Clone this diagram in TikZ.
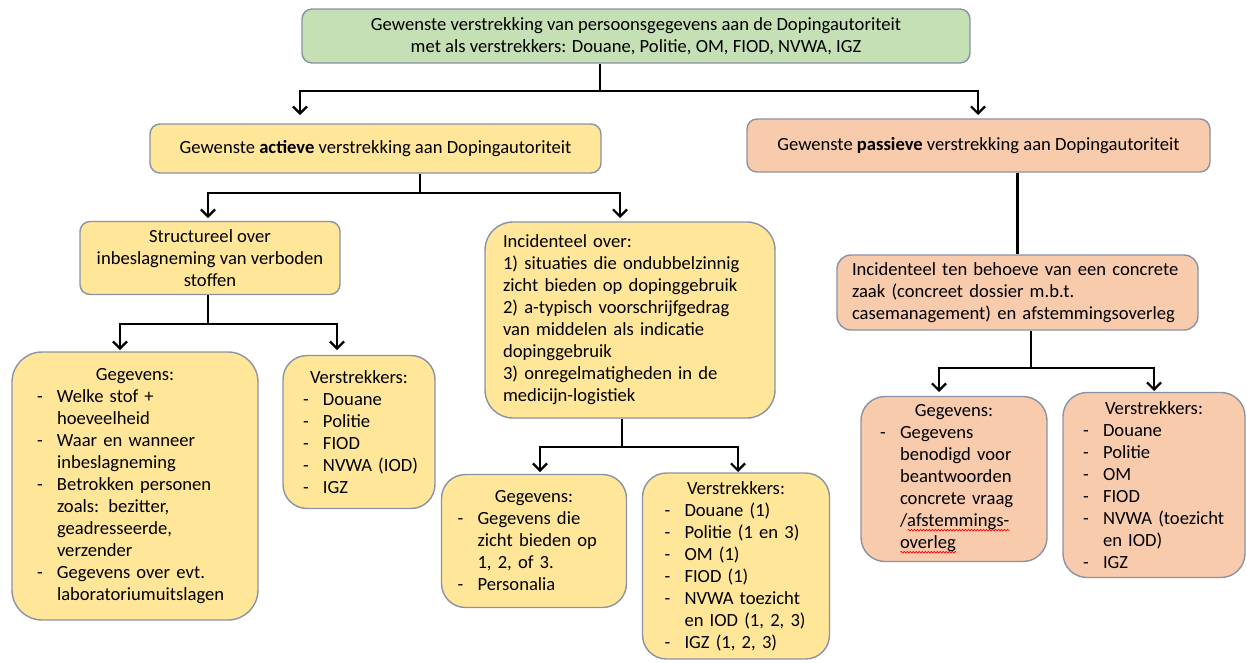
\documentclass[tikz,border=0pt]{standalone}
\usepackage{fontspec}
\setmainfont{Carlito}
\usetikzlibrary{arrows.meta,decorations.pathmorphing}
\definecolor{topgreen}{HTML}{C5E0B4}
\definecolor{activeyellow}{HTML}{FFE699}
\definecolor{passivepeach}{HTML}{F8CBAD}
\definecolor{boxborder}{HTML}{8A93A6}
\newlength{\foutbreedte}
\newcommand{\streep}[1]{\mbox{\makebox[20pt][l]{-}#1}}
\newcommand{\verder}[1]{\mbox{\hspace*{20pt}#1}}
\newcommand{\kop}[1]{\makebox[\linewidth]{#1}}
\newcommand{\spelfout}[1]{\settowidth{\foutbreedte}{#1}\rlap{\tikz[baseline=0pt]
    \draw[red, fill=none, sharp corners, line width=0.7pt, decorate,
        decoration={snake, amplitude=0.8pt, segment length=3pt}]
        (0pt,-3.5pt) -- (\foutbreedte,-3.5pt);}#1}
\tikzset{
    box/.style = {
        draw = boxborder,
        line width = 1.4pt,
        rounded corners = 10pt,
        inner sep = 0pt,
        align = center,
        font = \fontsize{18.6}{22}\selectfont,
        },
    top box/.style = {
        box,
        fill = topgreen,
        },
    active box/.style = {
        box,
        fill = activeyellow,
        },
    passive box/.style = {
        box,
        fill = passivepeach,
        },
    list box/.style = {
        align = left,
        rounded corners = 24pt,
        },
    link/.style = {
        draw,
        line width = 2.2pt,
        },
    link arrow/.style = {
        link,
        -{Straight Barb[length=7pt,width=14pt]},
        },
}
\begin{document}
\begin{tikzpicture}[x=1pt, y=-1pt]
    \useasboundingbox[fill=white] (0,0) rectangle (1247,662);

    \node[top box, minimum width=668, minimum height=54] (top) at (636,36)
        {Gewenste verstrekking van persoonsgegevens aan de Dopingautoriteit\\met als verstrekkers: Douane, Politie, OM, FIOD, NVWA, IGZ};

    \node[active box, minimum width=451, minimum height=49] (act) at (375.5,148.5)
        {Gewenste \textbf{actieve} verstrekking aan Dopingautoriteit};
    \node[passive box, minimum width=463, minimum height=53] (pas) at (978.5,145.5)
        {Gewenste \textbf{passieve} verstrekking aan Dopingautoriteit};

    \node[active box, minimum width=260, minimum height=73] (struc) at (210,258)
        {Structureel over\\inbeslagneming van verboden\\stoffen};
    \node[active box, list box, rounded corners=28pt, text width=254, minimum width=290, minimum height=196] (incid) at (630,320)
        {Incidenteel over:\\1) situaties die ondubbelzinnig\\zicht bieden op dopinggebruik\\2) a-typisch voorschrijfgedrag\\van middelen als indicatie\\dopinggebruik\\3) onregelmatigheden in de\\medicijn-logistiek};
    \node[passive box, list box, rounded corners=14pt, text width=331, minimum width=361, minimum height=75] (pinc) at (1017.5,292.5)
        {Incidenteel ten behoeve van een concrete\\zaak (concreet dossier m.b.t.\\casemanagement) en afstemmingsoverleg};

    \node[active box, list box, rounded corners=30pt, text width=196, minimum width=246, minimum height=268] (gegL) at (135,486)
        {\kop{Gegevens:}\\\streep{Welke stof +}\\\verder{hoeveelheid}\\\streep{Waar en wanneer}\\\verder{inbeslagneming}\\\streep{Betrokken personen}\\\verder{zoals: bezitter,}\\\verder{geadresseerde,}\\\verder{verzender}\\\streep{Gegevens over evt.}\\\verder{laboratoriumuitslagen}};
    \node[active box, list box, text width=112, minimum width=152, minimum height=153] (verL) at (359,432)
        {\kop{Verstrekkers:}\\\streep{Douane}\\\streep{Politie}\\\streep{FIOD}\\\streep{NVWA (IOD)}\\\streep{IGZ}};

    \node[active box, list box, text width=153, minimum width=185, minimum height=133] (gegM) at (534,541)
        {\kop{Gegevens:}\\\streep{Gegevens die}\\\verder{zicht bieden op}\\\verder{1, 2, of 3.}\\\streep{Personalia}};
    \node[active box, list box, text width=143, minimum width=187, minimum height=186] (verM) at (736,566)
        {\kop{Verstrekkers:}\\\streep{Douane (1)}\\\streep{Politie (1 en 3)}\\\streep{OM (1)}\\\streep{FIOD (1)}\\\streep{NVWA toezicht}\\\verder{en IOD (1, 2, 3)}\\\streep{IGZ (1, 2, 3)}};

    \node[passive box, list box, text width=148, minimum width=186, minimum height=165] (gegR) at (954,479)
        {\kop{Gegevens:}\\\streep{Gegevens}\\\verder{benodigd voor}\\\verder{beantwoorden}\\\verder{concrete vraag}\\\verder{/\spelfout{afstemmings-}}\\\verder{\spelfout{overleg}}};
    \node[passive box, list box, text width=142, minimum width=182, minimum height=185] (verR) at (1154,485)
        {\kop{Verstrekkers:}\\\streep{Douane}\\\streep{Politie}\\\streep{OM}\\\streep{FIOD}\\\streep{NVWA (toezicht}\\\verder{en IOD)}\\\streep{IGZ}};

    \coordinate (j1) at (600,91);
    \coordinate (t1) at (300,115);
    \coordinate (t2) at (978,115);
    \coordinate (j2) at (420,193);
    \coordinate (t3) at (208,218);
    \coordinate (t4) at (620,218);
    \coordinate (j3) at (208,324);
    \coordinate (t5) at (120,350);
    \coordinate (t6) at (337,350);
    \coordinate (j4) at (622,447);
    \coordinate (t7) at (540,472);
    \coordinate (t8) at (738,472);
    \coordinate (j5) at (1031,368);
    \coordinate (t9) at (939,392);
    \coordinate (t10) at (1154,391);

    \path[link] (top.south -| j1) -- (j1);
    \path[link arrow] (j1) -| (t1);
    \path[link arrow] (j1) -| (t2);
    \path[link] (act.south -| j2) -- (j2);
    \path[link arrow] (j2) -| (t3);
    \path[link arrow] (j2) -| (t4);
    \path[link] (struc.south -| j3) -- (j3);
    \path[link arrow] (j3) -| (t5);
    \path[link arrow] (j3) -| (t6);
    \path[link] (incid.south -| j4) -- (j4);
    \path[link arrow] (j4) -| (t7);
    \path[link arrow] (j4) -| (t8);
    \path[link] (pas.south -| pinc.north) -- (pinc.north);
    \path[link] (pinc.south -| j5) -- (j5);
    \path[link arrow] (j5) -| (t9);
    \path[link arrow] (j5) -| (t10);
\end{tikzpicture}
\end{document}
